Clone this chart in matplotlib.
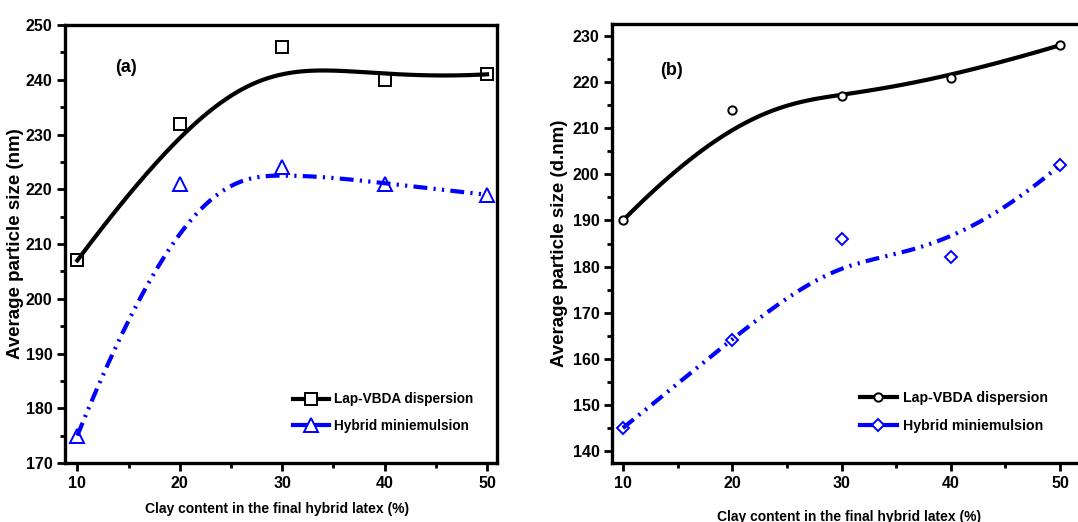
import numpy as np
import matplotlib
matplotlib.use("Agg")
import matplotlib.pyplot as plt
from matplotlib.lines import Line2D
from matplotlib.ticker import MultipleLocator

plt.rcParams['font.family'] = ['Liberation Sans', 'DejaVu Sans']
plt.rcParams['font.weight'] = 'bold'
plt.rcParams['axes.labelweight'] = 'bold'
plt.rcParams['lines.scale_dashes'] = False

# data
clay = [10, 20, 30, 40, 50]
lap_a = [207, 232, 246, 240, 241]
hyb_a = [175, 221, 224, 221, 219]
lap_b = [190, 214, 217, 221, 228]
hyb_b = [145, 164, 186, 182, 202]

lap_label = "Lap-VBDA dispersion"
hyb_label = "Hybrid miniemulsion"
xlabel = "Clay content in the final hybrid latex (%)"

DASHDOTDOT = (0, (10, 4.5, 1.6, 4.5, 1.6, 4.5))


def bspline(xs, ys, n=300):
    # clamped cubic B-spline using the points as control points (Origin "B-spline" line)
    P = np.column_stack([xs, ys]).astype(float)
    k = 3
    m = len(P)
    inner = np.linspace(0, 1, m - k + 1)[1:-1]
    knots = np.concatenate([np.zeros(k + 1), inner, np.ones(k + 1)])
    t = np.linspace(0, 1, n)
    t[-1] -= 1e-10
    N = np.zeros((n, len(knots) - 1))
    for i in range(len(knots) - 1):
        N[:, i] = (knots[i] <= t) & (t < knots[i + 1])
    for d in range(1, k + 1):
        Nn = np.zeros((n, len(knots) - 1 - d))
        for i in range(len(knots) - 1 - d):
            a = knots[i + d] - knots[i]
            b = knots[i + d + 1] - knots[i + 1]
            left = (t - knots[i]) / a * N[:, i] if a > 0 else 0
            right = (knots[i + d + 1] - t) / b * N[:, i + 1] if b > 0 else 0
            Nn[:, i] = left + right
        N = Nn
    C = N @ P
    return C[:, 0], C[:, 1]


fig = plt.figure(figsize=(10.78, 5.22), dpi=100)
ax1 = fig.add_axes([0.0603, 0.113, 0.401, 0.839])
ax2 = fig.add_axes([0.5677, 0.113, 0.436, 0.841])


def style(ax):
    for s in ax.spines.values():
        s.set_linewidth(2.4)
    ax.tick_params(which='both', direction='out', width=2, top=False, right=False)
    ax.tick_params(which='major', length=6, labelsize=11.5, pad=3)
    ax.tick_params(which='minor', length=3.5)
    ax.xaxis.set_major_locator(MultipleLocator(10))
    ax.xaxis.set_minor_locator(MultipleLocator(5))
    ax.yaxis.set_major_locator(MultipleLocator(10))
    ax.yaxis.set_minor_locator(MultipleLocator(5))


# panel (a)
x, y = bspline(clay, lap_a)
ax1.plot(x, y, color='black', lw=3)
x, y = bspline(clay, hyb_a)
ax1.plot(x, y, color='blue', lw=3, linestyle=DASHDOTDOT)
ax1.plot(clay, lap_a, 's', ms=8, mfc='none', mec='black', mew=1.4, linestyle='none')
ax1.plot(clay, hyb_a, '^', ms=10, mfc='none', mec='blue', mew=1.4, linestyle='none')
ax1.set_xlim(8.8, 51)
ax1.set_ylim(170, 250)
style(ax1)
ax1.set_xlabel(xlabel, fontsize=10)
ax1.xaxis.set_label_coords(0.49, -0.088)
ax1.set_ylabel("Average particle size (nm)", fontsize=13.5)
ax1.yaxis.set_label_coords(-0.095, 0.5)
ax1.text(0.141, 0.904, "(a)", transform=ax1.transAxes, fontsize=13, va='center', ha='center')
h1 = [Line2D([], [], color='black', lw=3, marker='s', ms=8, mfc='white', mec='black', mew=1.4),
      Line2D([], [], color='blue', lw=3, marker='^', ms=10, mfc='white', mec='blue', mew=1.4)]
ax1.legend(h1, [lap_label, hyb_label], loc='lower left', bbox_to_anchor=(0.5, 0.04),
           frameon=False, fontsize=9.8, handlelength=2.6, handletextpad=0.35, labelspacing=0.95)

# panel (b)
x, y = bspline(clay, lap_b)
ax2.plot(x, y, color='black', lw=3)
x, y = bspline(clay, hyb_b)
ax2.plot(x, y, color='blue', lw=3, linestyle=DASHDOTDOT)
ax2.plot(clay, lap_b, 'o', ms=6, mfc='white', mec='black', mew=1.4, linestyle='none', clip_on=False)
ax2.plot(clay, hyb_b, 'D', ms=6.5, mfc='none', mec='blue', mew=1.4, linestyle='none', clip_on=False)
ax2.set_xlim(9, 52)
ax2.set_ylim(137.4, 232.6)
style(ax2)
ax2.set_xlabel(xlabel, fontsize=10)
ax2.xaxis.set_label_coords(0.505, -0.108)
ax2.set_ylabel("Average particle size (d.nm)", fontsize=13.5)
ax2.yaxis.set_label_coords(-0.093, 0.5)
ax2.text(0.127, 0.895, "(b)", transform=ax2.transAxes, fontsize=13, va='center', ha='center')
h2 = [Line2D([], [], color='black', lw=3, marker='o', ms=6, mfc='white', mec='black', mew=1.4),
      Line2D([], [], color='blue', lw=3, marker='D', ms=6.5, mfc='white', mec='blue', mew=1.4)]
ax2.legend(h2, [lap_label, hyb_label], loc='lower left', bbox_to_anchor=(0.5, 0.04),
           frameon=False, fontsize=10.2, handlelength=2.6, handletextpad=0.45, labelspacing=0.95)

fig.savefig("out.png", dpi=100)
